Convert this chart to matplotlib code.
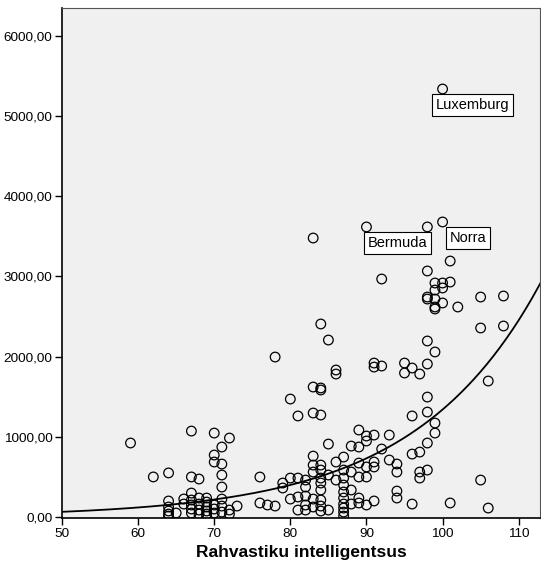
import numpy as np
import matplotlib
matplotlib.use("Agg")
import matplotlib.pyplot as plt

plt.rcParams['font.family'] = ['Liberation Sans', 'DejaVu Sans']

# values, grouped by x (IQ)
columns = {
    59: [923],
    62: [500],
    64: [550, 200, 125, 75, 37, 12],
    65: [50],
    66: [225, 162],
    67: [1072, 500, 299, 212, 150, 100, 50],
    68: [474, 237, 162, 87, 37],
    69: [237, 187, 125, 75, 37, 12],
    70: [1047, 773, 686, 150, 100, 50],
    71: [873, 661, 524, 374, 224, 137, 62],
    72: [985, 87, 37],
    73: [137],
    76: [499, 175],
    77: [150],
    78: [1995, 137],
    79: [424, 362],
    80: [1471, 486, 224],
    81: [1260, 486, 250, 87],
    82: [461, 374, 262, 150, 87],
    83: [3479, 1621, 1297, 760, 648, 561, 224, 125],
    84: [2407, 1609, 1584, 1272, 648, 586, 486, 424, 337, 212, 137, 75],
    85: [2207, 910, 524, 87],
    86: [1833, 1783, 686, 461],
    87: [748, 586, 486, 399, 312, 237, 162, 112, 62, 12],
    88: [885, 561, 337, 162],
    89: [1085, 873, 673, 499, 237, 175],
    90: [3617, 1010, 948, 624, 499, 150],
    91: [1920, 1870, 1022, 686, 624, 200],
    92: [2968, 1883, 848],
    93: [1022, 711],
    94: [661, 561, 324, 237],
    95: [1920, 1796],
    96: [1858, 1260, 785, 162],
    97: [1783, 810, 561, 486],
    98: [3617, 3068, 2743, 2718, 2195, 1908, 1496, 1309, 923, 586],
    99: [2918, 2830, 2718, 2619, 2594, 2058, 1172, 1047],
    100: [5337, 3679, 2918, 2856, 2669],
    101: [3192, 2930, 175],
    102: [2619],
    105: [2743, 2357, 461],
    106: [1696, 112],
    108: [2756, 2382],
}
iq = [x for x, ys in columns.items() for _ in ys]
value = [y for ys in columns.values() for y in ys]

# labelled countries: name, x, y, text offset in pixels
labels = ["Luxemburg", "Bermuda", "Norra"]
label_x = [100, 90, 100]
label_y = [5337, 3617, 3679]
label_dx = [-7, 1, 7]
label_dy = [-9, -9, -9]

# exponential fit y = a * exp(b * x)
fit_a = 3.16
fit_b = 0.0605

fig = plt.figure(figsize=(5.41, 5.77), dpi=100)
ax = fig.add_axes([62 / 541, 59 / 577, 478 / 541, 510 / 577])
ax.set_facecolor('#f0f0f0')

ax.scatter(iq, value, s=48, facecolors='none', edgecolors='black', linewidths=0.9, zorder=3)

xs = np.linspace(50, 113, 300)
ax.plot(xs, fit_a * np.exp(fit_b * xs), color='black', lw=1.3, zorder=2)

for name, x, y, dx, dy in zip(labels, label_x, label_y, label_dx, label_dy):
    ax.annotate(name, (x, y), xytext=(dx, dy), textcoords='offset pixels',
                ha='left', va='top', fontsize=10.5,
                bbox=dict(boxstyle='square,pad=0.25', fc='white', ec='black', lw=0.8),
                zorder=4)

ax.set_xlim(50, 112.8)
ax.set_ylim(-12, 6347)
ax.set_xticks([50, 60, 70, 80, 90, 100, 110])
ax.set_yticks([0, 1000, 2000, 3000, 4000, 5000, 6000])
ax.set_yticklabels([f"{v},00" for v in [0, 1000, 2000, 3000, 4000, 5000, 6000]])
ax.tick_params(direction='out', length=5, width=1, labelsize=9.7, colors='black', pad=2)

for side in ['left', 'bottom']:
    ax.spines[side].set_color('black')
    ax.spines[side].set_linewidth(1.2)
for side in ['top', 'right']:
    ax.spines[side].set_color('#555555')
    ax.spines[side].set_linewidth(0.8)

ax.set_xlabel("Rahvastiku intelligentsus", fontsize=12.5, fontweight='bold', labelpad=4)

fig.savefig("out.png", dpi=100)
